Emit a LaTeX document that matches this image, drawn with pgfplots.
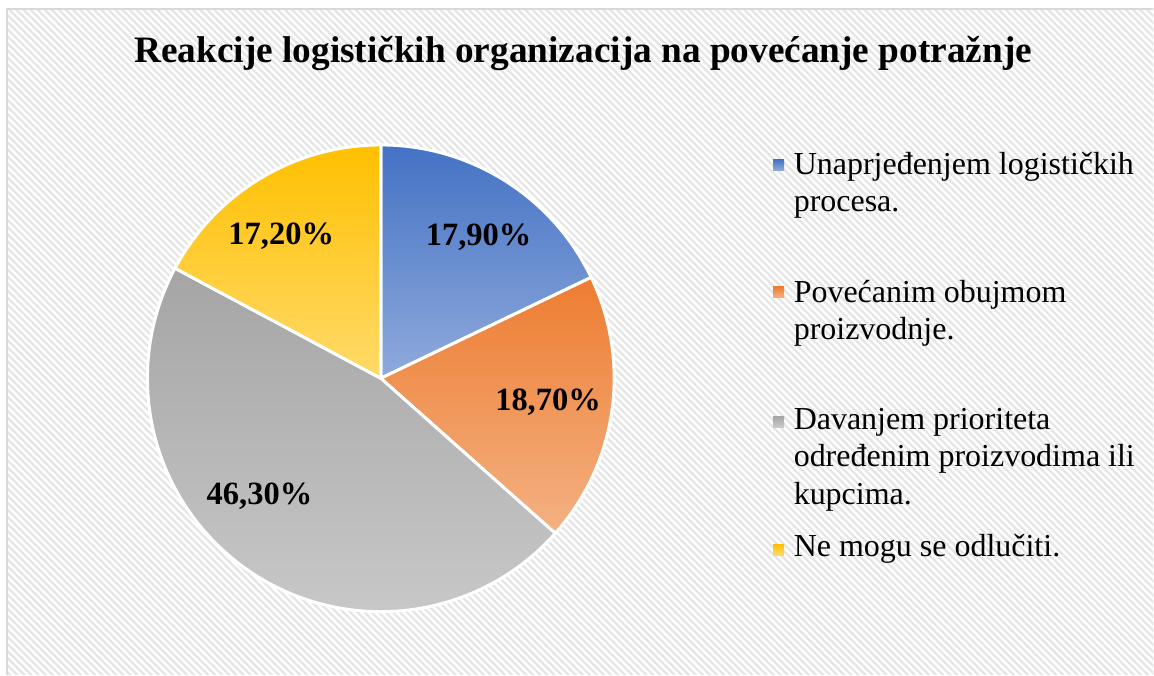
\documentclass[border=0pt]{standalone}
\usepackage{fontspec}
\setmainfont{Liberation Serif}
\usepackage{pgfplots}
\pgfplotsset{compat=1.18}
\usepackage{pgfplotstable}
\usetikzlibrary{patterns.meta}

% slice colours: top / bottom of the gradient
\definecolor{c0t}{HTML}{4472C4}\definecolor{c0b}{HTML}{8FAADC}
\definecolor{c1t}{HTML}{ED7D31}\definecolor{c1b}{HTML}{F4B183}
\definecolor{c2t}{HTML}{A5A5A5}\definecolor{c2b}{HTML}{CACACA}
\definecolor{c3t}{HTML}{FFC000}\definecolor{c3b}{HTML}{FFDA6A}

\tikzdeclarepattern{
  name=bgstripes,
  type=uncolored,
  bottom left={(-.1pt,-.1pt)},
  top right={(5.1pt,5.1pt)},
  tile size={(5pt,5pt)},
  tile transformation={rotate=-45},
  code={\pgfsetlinewidth{2.2pt}\pgfpathmoveto{\pgfpoint{-1pt}{2.5pt}}\pgfpathlineto{\pgfpoint{6pt}{2.5pt}}\pgfusepath{stroke}}
}

% share, label angle offset, label radius
\pgfplotstableread{
value loff lrad
17.9 -2.5 172
18.7 0 169
46.3 -11 169
17.2 4 174
}\piedata

% angles of the slices, clockwise from the top
\def\tot{0}
\pgfplotsforeachungrouped \i in {0,...,3}{%
  \pgfplotstablegetelem{\i}{value}\of\piedata
  \pgfmathsetmacro\tot{\tot+\pgfplotsretval}%
}
\def\cum{0}
\pgfplotsforeachungrouped \i in {0,...,3}{%
  \pgfplotstablegetelem{\i}{value}\of\piedata \let\v\pgfplotsretval
  \pgfplotstablegetelem{\i}{loff}\of\piedata \let\lo\pgfplotsretval
  \pgfplotstablegetelem{\i}{lrad}\of\piedata \let\lr\pgfplotsretval
  \pgfmathsetmacro\sa{90-360*(\cum/\tot)}%
  \pgfmathsetmacro\cum{\cum+\v}%
  \pgfmathsetmacro\ea{90-360*(\cum/\tot)}%
  \pgfmathsetmacro\la{(\sa+\ea)/2+\lo}%
  \expandafter\xdef\csname pieS\i\endcsname{\sa}%
  \expandafter\xdef\csname pieE\i\endcsname{\ea}%
  \expandafter\xdef\csname pieL\i\endcsname{\la}%
  \expandafter\xdef\csname pieR\i\endcsname{\lr}%
  \expandafter\xdef\csname pieV\i\endcsname{\v}%
}

\begin{document}
\begin{tikzpicture}
\begin{axis}[
  width=1154pt, height=675pt, scale only axis,
  xmin=0, xmax=1154, ymin=0, ymax=675, y dir=reverse,
  hide axis, clip=false]
  % background
  \path[fill=white] (axis cs:0,0) rectangle (axis cs:1154,675);
  \fill[pattern=bgstripes, pattern color=black!10] (axis cs:7,9) rectangle (axis cs:1154,675);
  \draw[black!15, line width=1.3pt] (axis cs:7,675) -- (axis cs:7,9) -- (axis cs:1154,9);

  % title
  \node[anchor=base, inner sep=0pt, font=\bfseries\fontsize{37.3}{44}\selectfont]
    at (axis cs:583.5,63) {Reakcije logističkih organizacija na povećanje potražnje};

  % slices
  \pgfplotsinvokeforeach{0,...,3}{
    \path[draw=white, line width=3pt, line join=round, top color=c#1t, bottom color=c#1b]
      (axis cs:381,378.5) -- ++(\csname pieS#1\endcsname:233.5pt)
      arc[start angle=\csname pieS#1\endcsname, end angle=\csname pieE#1\endcsname, radius=233.5pt] -- cycle;
  }
  % data labels
  \pgfplotsinvokeforeach{0,...,3}{
    \path (axis cs:381,378.5) ++(\csname pieL#1\endcsname:\csname pieR#1\endcsname pt)
      node[inner sep=0pt, font=\bfseries\fontsize{32.5}{38}\selectfont]
      {\pgfmathprintnumber[fixed, fixed zerofill, precision=2, use comma, assume math mode=true]{\csname pieV#1\endcsname}\%};
  }

  % legend
  \path[top color=c0t, bottom color=c0b] (axis cs:773.5,159.5) rectangle (axis cs:784.5,170.5);
  \path[top color=c1t, bottom color=c1b] (axis cs:773.5,287) rectangle (axis cs:784.5,298);
  \path[top color=c2t, bottom color=c2b] (axis cs:773.5,416.5) rectangle (axis cs:784.5,427.5);
  \path[top color=c3t, bottom color=c3b] (axis cs:773.5,544.5) rectangle (axis cs:784.5,555.5);
  \begin{scope}[every node/.style={anchor=base west, inner sep=0pt, font=\fontsize{32}{37}\selectfont}]
    \node at (axis cs:794,175) {Unaprjeđenjem logističkih};
    \node at (axis cs:794,212) {procesa.};
    \node at (axis cs:794,303) {Povećanim obujmom};
    \node at (axis cs:794,340) {proizvodnje.};
    \node at (axis cs:794,430) {Davanjem prioriteta};
    \node at (axis cs:794,467) {određenim proizvodima ili};
    \node at (axis cs:794,505) {kupcima.};
    \node at (axis cs:794,557) {Ne mogu se odlučiti.};
  \end{scope}
\end{axis}
\end{tikzpicture}
\end{document}
